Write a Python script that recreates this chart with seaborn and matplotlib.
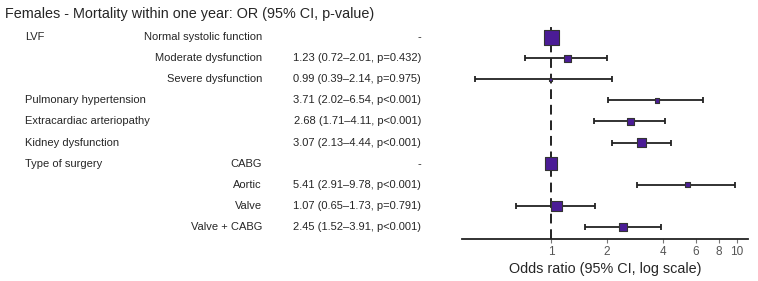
import numpy as np
import pandas as pd
import seaborn as sns
import matplotlib.pyplot as plt
from matplotlib.transforms import blended_transform_factory

# Дані моделі (жінки, летальність протягом року)
groups = ["LVF", "", "", "Pulmonary hypertension", "Extracardiac arteriopathy",
          "Kidney dysfunction", "Type of surgery", "", "", ""]
levels = ["Normal systolic function", "Moderate dysfunction", "Severe dysfunction",
          "", "", "", "CABG", "Aortic", "Valve", "Valve + CABG"]
odds = [1.0, 1.23, 0.99, 3.71, 2.68, 3.07, 1.0, 5.41, 1.07, 2.45]
ci_low = [np.nan, 0.72, 0.39, 2.02, 1.71, 2.13, np.nan, 2.91, 0.65, 1.52]
ci_high = [np.nan, 2.01, 2.14, 6.54, 4.11, 4.44, np.nan, 9.78, 1.73, 3.91]
p_vals = ["", "p=0.432", "p=0.975", "p<0.001", "p<0.001", "p<0.001",
          "", "p<0.001", "p=0.791", "p<0.001"]
weight = [15, 7, 3, 4.5, 6.5, 9.5, 12.5, 4.5, 10.5, 8]  # відносна вага (розмір квадрата)
is_ref = [True, False, False, False, False, False, True, False, False, False]

df = pd.DataFrame({"group": groups, "level": levels, "odds": odds,
                   "lo": ci_low, "hi": ci_high, "p": p_vals,
                   "w": weight, "ref": is_ref})
df["row"] = np.arange(len(df))
df["area"] = (df["w"] * 72 / 100) ** 2

sns.set_theme(style="white")
plt.rcParams['font.family'] = ['Liberation Sans', 'DejaVu Sans']
txt_col = "#262626"

fig = plt.figure(figsize=(7.58, 2.81), dpi=100)
ax = fig.add_axes([0.6095, 0.1495, 0.3773, 0.7616])

# довірчі інтервали
ci = df[~df["ref"]]
ax.errorbar(ci["odds"], ci["row"],
            xerr=[ci["odds"] - ci["lo"], ci["hi"] - ci["odds"]],
            fmt="none", ecolor="#222222", elinewidth=1.3,
            capsize=2.2, capthick=1.3, zorder=1)
ax.axvline(1, color="#222222", lw=1.4, ls=(0, (5, 3)), zorder=2)

sns.scatterplot(data=df, x="odds", y="row", size="area",
                sizes=(df["area"].min(), df["area"].max()),
                marker="s", color="#4b1c96", edgecolor="#333333",
                linewidth=0.8, legend=False, ax=ax, zorder=3)

ax.set_xscale("log")
ax.set_xlim(0.332, 11.46)
ax.set_ylim(len(df) - 1 + 0.57, -0.57)
ax.set_xticks([1, 2, 4, 6, 8, 10])
ax.set_xticklabels(["1", "2", "4", "6", "8", "10"])
ax.minorticks_off()
ax.tick_params(axis="x", bottom=True, length=3, width=0.8, color="#777777",
               labelcolor="#555555", labelsize=8.5, pad=2)
ax.set_yticks([])
ax.set_ylabel("")
ax.set_xlabel("Odds ratio (95% CI, log scale)", fontsize=10.4, color=txt_col, labelpad=3)
for s in ["left", "top", "right"]:
    ax.spines[s].set_visible(False)
ax.spines["bottom"].set_color("#222222")
ax.spines["bottom"].set_linewidth(1.3)

# текстова таблиця ліворуч
tr = blended_transform_factory(fig.transFigure, ax.transData)
for _, r in df.iterrows():
    if r["group"]:
        ax.text(25 / 758, r["row"], r["group"], transform=tr, ha="left", va="center",
                fontsize=8, color=txt_col)
    if r["level"]:
        ax.text(262 / 758, r["row"], r["level"], transform=tr, ha="right", va="center",
                fontsize=8, color=txt_col)
    if r["ref"]:
        est = "-"
    else:
        est = f"{r['odds']:.2f} ({r['lo']:.2f}\u2013{r['hi']:.2f}, {r['p']})"
    ax.text(421 / 758, r["row"], est, transform=tr, ha="right", va="center",
            fontsize=8, color=txt_col)

fig.text(5 / 758, 1 - 14 / 281, "Females - Mortality within one year: OR (95% CI, p-value)",
         ha="left", va="center", fontsize=10.4, color=txt_col)

fig.savefig("out.png", dpi=100)
